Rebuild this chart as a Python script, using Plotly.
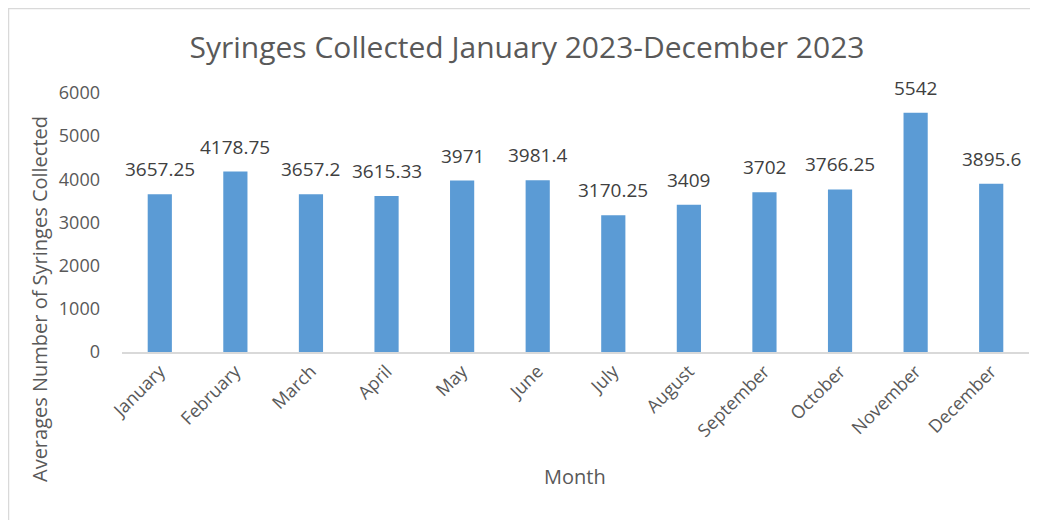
import plotly.graph_objects as go

months = ["January", "February", "March", "April", "May", "June", "July",
          "August", "September", "October", "November", "December"]
avg_syringes = [3657.25, 4178.75, 3657.2, 3615.33, 3971, 3981.4, 3170.25,
                3409, 3702, 3766.25, 5542, 3895.6]
y_ticks = [0, 1000, 2000, 3000, 4000, 5000, 6000]

FONT = "Open Sans"
GREY = "#595959"

# the page puts the figure 8px in from the top-left (default body margin),
# so positions below are given in screen pixels and shifted by OFF
OFF = 8
W, H = 1038, 520
plot_left, plot_right, plot_top, plot_bottom = 122, 1029, 93, 352
L = plot_left - OFF
R = W - (plot_right - OFF)
T = plot_top - OFF
B = H - (plot_bottom - OFF)
pw, ph = plot_right - plot_left, plot_bottom - plot_top


def px_to_paper(x, y):
    return (x - plot_left) / pw, (plot_bottom - y) / ph


fig = go.Figure()
fig.add_trace(go.Bar(
    x=months, y=avg_syringes,
    marker=dict(color="#5B9BD5", line=dict(width=0)),
))

# data labels sit a bit higher above the bars than plotly's outside text
for m, v in zip(months, avg_syringes):
    fig.add_annotation(x=m, y=v, text=f"{v:g}", showarrow=False,
                       xanchor="center", yanchor="bottom", yshift=10,
                       font=dict(family=FONT, size=19, color="#404040"))

# light grey frame round the chart
bx0, by0 = px_to_paper(OFF + 0.5, 540)
bx1, by1 = px_to_paper(1060, OFF + 0.5)
fig.add_shape(type="rect", xref="paper", yref="paper",
              x0=bx0, y0=by0, x1=bx1, y1=by1,
              line=dict(color="#D9D9D9", width=1.5), layer="below")

# axis titles placed like Excel does
ax, ay = px_to_paper(39, 299)
fig.add_annotation(text="Averages Number of Syringes Collected",
                   xref="paper", yref="paper", x=ax, y=ay,
                   xanchor="center", yanchor="middle",
                   textangle=-90, showarrow=False,
                   font=dict(family=FONT, size=20, color=GREY))
mx, my = px_to_paper(575, 476)
fig.add_annotation(text="Month", xref="paper", yref="paper", x=mx, y=my,
                   xanchor="center", yanchor="middle", showarrow=False,
                   font=dict(family=FONT, size=20, color=GREY))

fig.update_layout(
    width=W, height=H,
    margin=dict(l=L, r=R, t=T, b=B, autoexpand=False),
    paper_bgcolor="white", plot_bgcolor="white",
    showlegend=False,
    bargap=0.68,
    title=dict(text="Syringes Collected January 2023-December 2023",
               x=(527 - OFF) / W, xref="container", xanchor="center",
               y=1 - (47 - OFF) / H, yref="container", yanchor="middle",
               font=dict(family=FONT, size=30, color=GREY)),
    xaxis=dict(tickangle=-45, showgrid=False, showline=True,
               linecolor="#D9D9D9", linewidth=1.5, ticks="",
               tickfont=dict(family=FONT, size=18, color=GREY)),
    yaxis=dict(range=[0, 6000], tickvals=y_ticks, showgrid=False,
               zeroline=False, showline=False, ticks="",
               ticklabelstandoff=21,
               tickfont=dict(family=FONT, size=18, color=GREY)),
)

fig.write_html("out.html")
